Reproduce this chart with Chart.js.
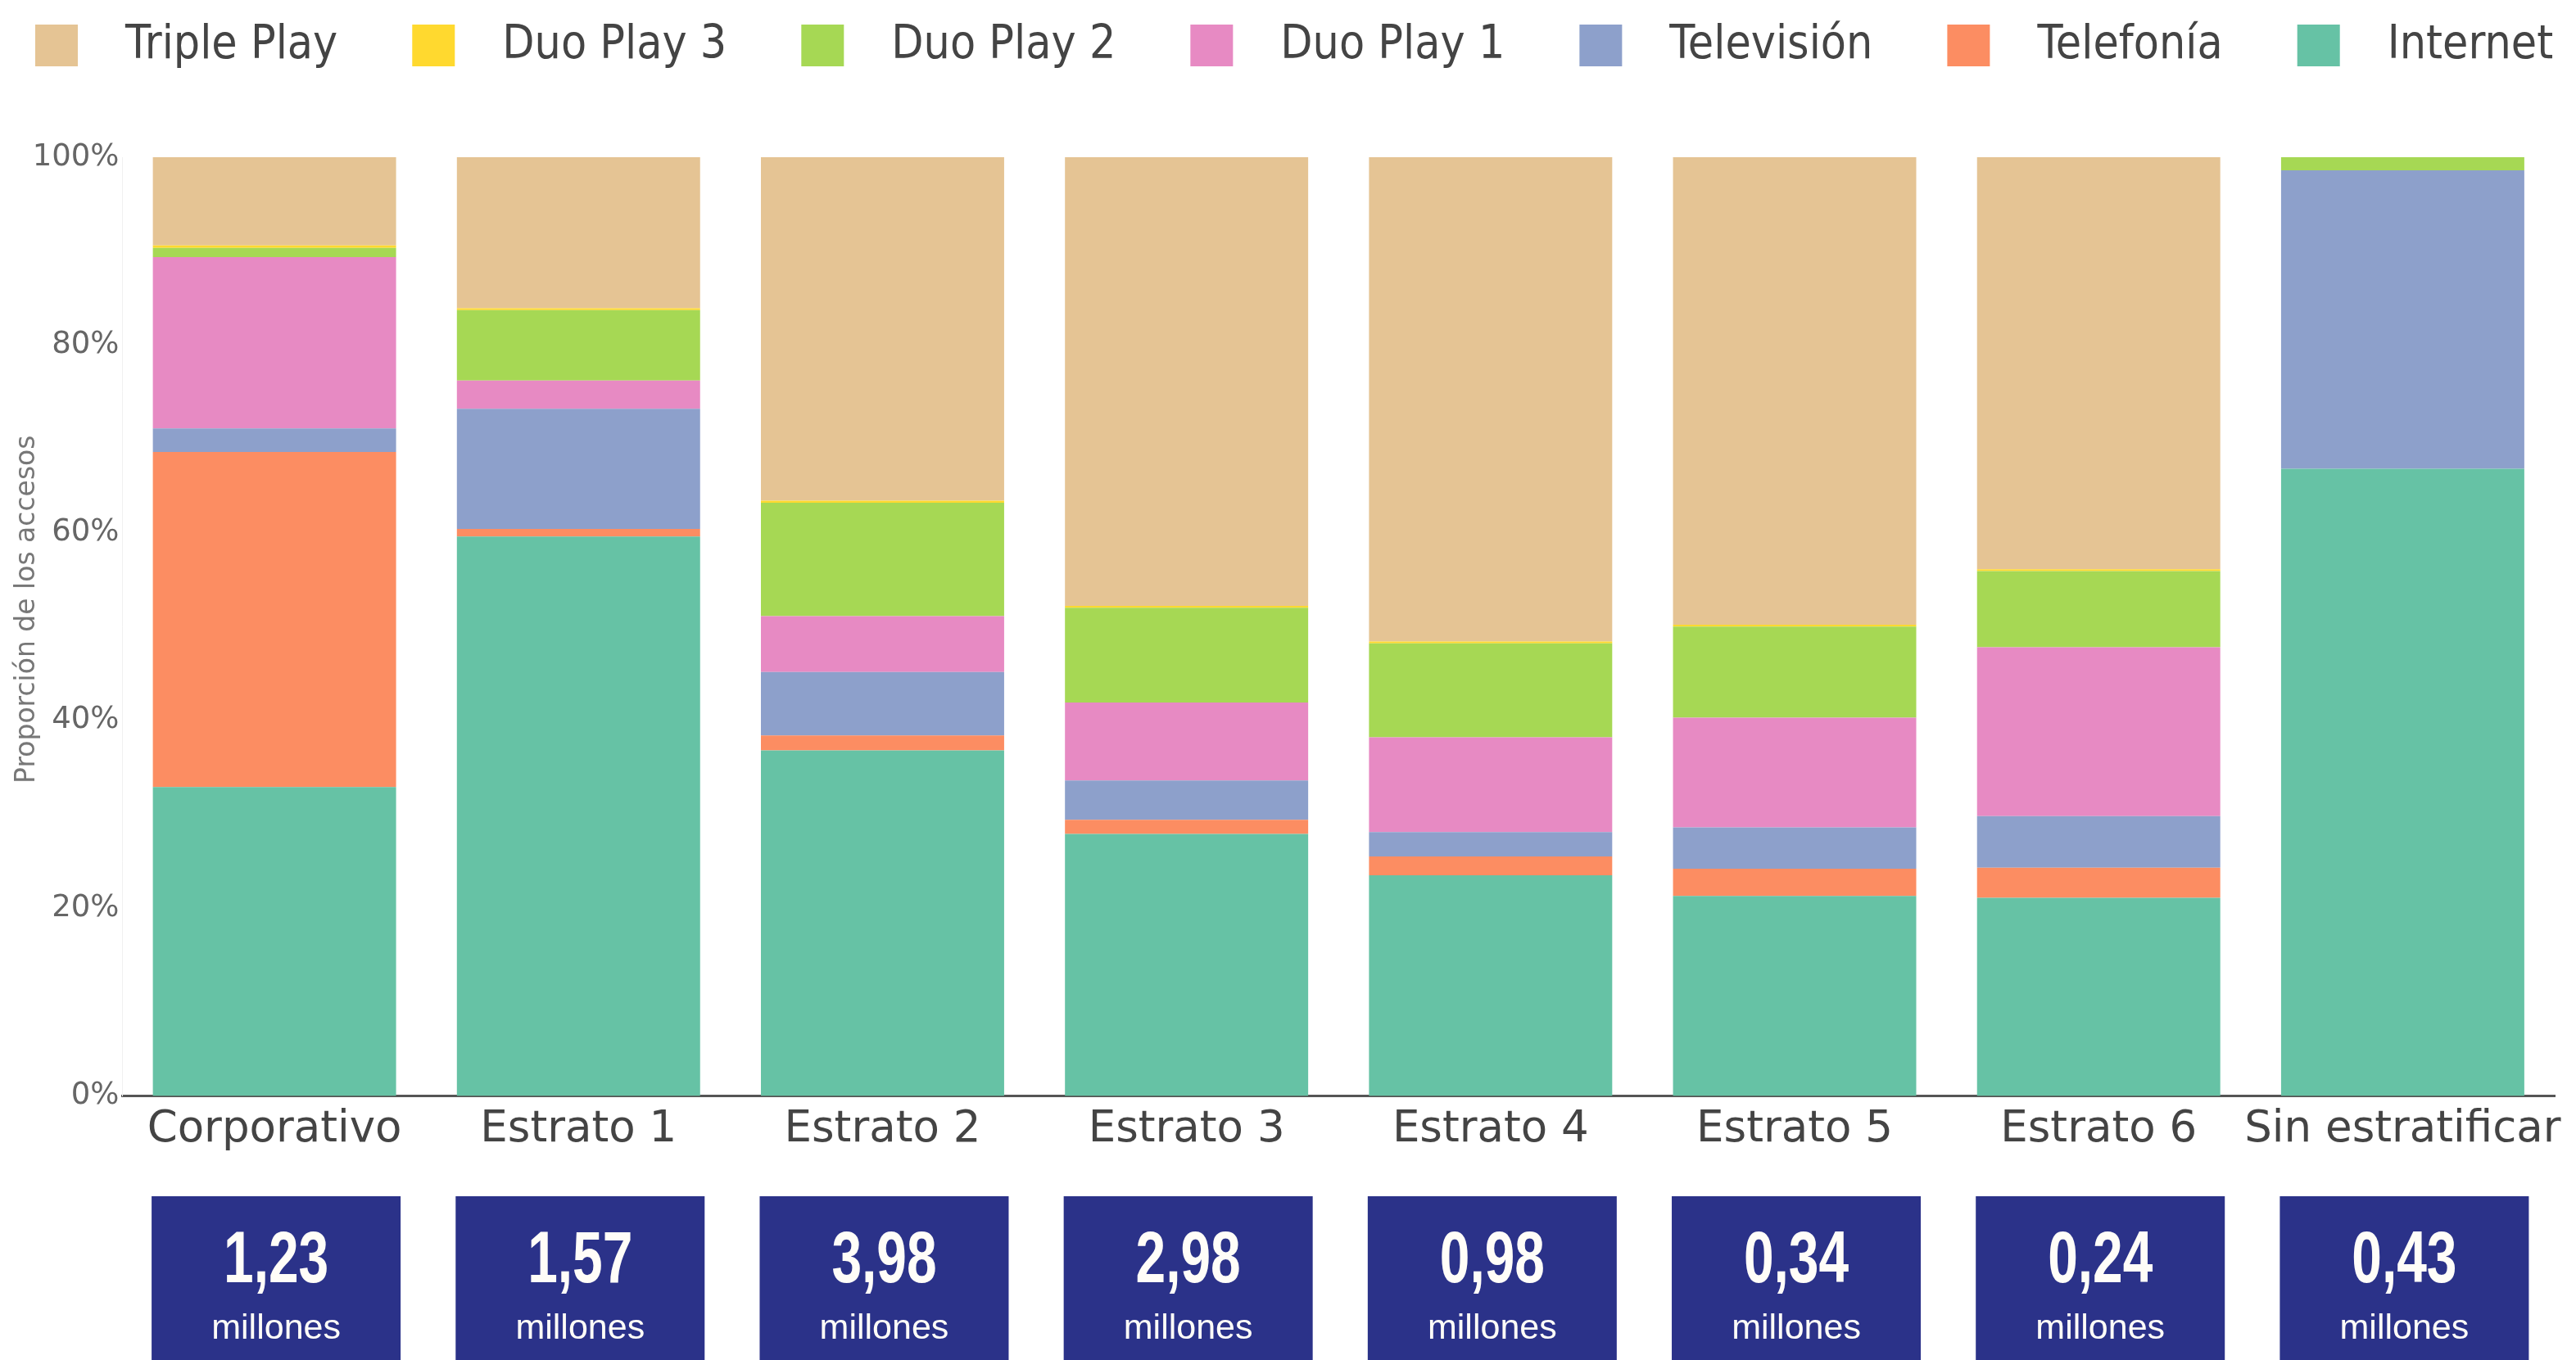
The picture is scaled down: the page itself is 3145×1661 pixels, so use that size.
<!DOCTYPE html>
<html>
<head>
<meta charset="utf-8">
<script src="https://cdn.jsdelivr.net/npm/chart.js@4"></script>
<style>
  body { margin: 0; background: #fff; }
  canvas { display: block; }
</style>
</head>
<body>
<canvas id="myChart" width="3145" height="1661"></canvas>
<script>
// categorias y proporciones (%)
var categories = ['Corporativo', 'Estrato 1', 'Estrato 2', 'Estrato 3', 'Estrato 4', 'Estrato 5', 'Estrato 6', 'Sin estratificar']
var internet   = [32.9, 59.6, 36.8, 27.9, 23.5, 21.3, 21.1, 66.8]
var telefonia  = [35.7, 0.8, 1.6, 1.5, 2.0, 2.9, 3.2, 0]
var television = [2.5, 12.8, 6.75, 4.2, 2.6, 4.4, 5.5, 31.8]
var duoPlay1   = [18.25, 3.0, 5.95, 8.3, 10.1, 11.7, 18.0, 0]
var duoPlay2   = [1.0, 7.5, 12.1, 10.1, 10.0, 9.7, 8.1, 1.4]
var duoPlay3   = [0.25, 0.2, 0.2, 0.2, 0.2, 0.2, 0.2, 0]
var triplePlay = [9.4, 16.1, 36.6, 47.8, 51.6, 49.8, 43.9, 0]
var millones   = [1.23, 1.57, 3.98, 2.98, 0.98, 0.34, 0.24, 0.43]
var yTicks     = [0, 20, 40, 60, 80, 100]

function ds(label, data, color) {
    return { label: label, data: data, backgroundColor: color, borderWidth: 0,
             barPercentage: 0.8, categoryPercentage: 1.0 }
}

// leyenda propia: orden inverso al apilado
var legendPlugin = {
    id: 'topLegend',
    afterDraw: function(chart) {
        var ctx = chart.ctx
        var items = chart.data.datasets.slice().reverse()
        var x = 43
        ctx.save()
        ctx.font = '51px "DejaVu Sans"'
        ctx.textBaseline = 'middle'
        ctx.textAlign = 'left'
        items.forEach(function(d) {
            ctx.fillStyle = d.backgroundColor
            ctx.fillRect(x, 30, 52, 51)
            ctx.fillStyle = '#444'
            var tx = x + 110
            ctx.save()
            ctx.translate(tx, 56)
            ctx.scale(1, 1.1)
            ctx.fillText(d.label, 0, 0)
            ctx.restore()
            x = tx + ctx.measureText(d.label).width + 91
        })
        ctx.restore()
    }
}

// cajas azules con el total de accesos bajo cada categoria
var boxesPlugin = {
    id: 'totalBoxes',
    afterDraw: function(chart) {
        var ctx = chart.ctx
        var xs = chart.scales.x
        ctx.save()
        millones.forEach(function(v, i) {
            var cx = xs.getPixelForValue(i) + 2
            ctx.fillStyle = '#2b3289'
            ctx.fillRect(cx - 152, 1461, 304, 210)
            ctx.fillStyle = '#fffdf8'
            ctx.textAlign = 'center'
            ctx.textBaseline = 'alphabetic'
            ctx.save()
            ctx.translate(cx, 1566)
            ctx.scale(0.74, 1)
            ctx.font = 'bold 89px "Liberation Sans"'
            ctx.fillText(v.toFixed(2).replace('.', ','), 0, 0)
            ctx.restore()
            ctx.font = '43px "Liberation Sans"'
            ctx.fillText('millones', cx, 1635)
        })
        ctx.restore()
    }
}

var ctx = document.getElementById('myChart').getContext('2d')
var myChart = new Chart(ctx, {
    type: 'bar',
    data: {
        labels: categories,
        datasets: [
            ds('Internet', internet, '#66c2a5'),
            ds('Telefonía', telefonia, '#fc8d62'),
            ds('Televisión', television, '#8da0cb'),
            ds('Duo Play 1', duoPlay1, '#e78ac3'),
            ds('Duo Play 2', duoPlay2, '#a6d854'),
            ds('Duo Play 3', duoPlay3, '#ffd92f'),
            ds('Triple Play', triplePlay, '#e5c494')
        ]
    },
    options: {
        responsive: false,
        animation: false,
        layout: { padding: { top: 192, right: 26, bottom: 239, left: 0 } },
        plugins: {
            legend: { display: false },
            tooltip: { enabled: false }
        },
        scales: {
            x: {
                stacked: true,
                grid: { display: false, drawTicks: false },
                border: { display: true, color: '#555', width: 3 },
                ticks: {
                    color: '#444',
                    font: { family: 'DejaVu Sans', size: 53 },
                    padding: 10,
                    maxRotation: 0,
                    minRotation: 0,
                    autoSkip: false
                }
            },
            y: {
                stacked: true,
                min: 0,
                max: 100,
                afterBuildTicks: function(scale) {
                    scale.ticks = yTicks.map(function(v) { return { value: v } })
                },
                afterFit: function(scale) { scale.width = 149.5 },
                grid: { display: false, drawTicks: false },
                border: { display: true, color: '#f0f0f0', width: 1 },
                ticks: {
                    color: '#666',
                    font: { family: 'DejaVu Sans', size: 37 },
                    padding: 4,
                    callback: function(v) { return v + '%' }
                },
                title: {
                    display: true,
                    // espacios iniciales para subir un poco el texto girado, como en el original
                    text: '    Proporción de los accesos',
                    color: '#777',
                    font: { family: 'DejaVu Sans', size: 33 },
                    padding: { top: 14, bottom: 0 }
                }
            }
        }
    },
    plugins: [legendPlugin, boxesPlugin]
})
</script>
</body>
</html>
